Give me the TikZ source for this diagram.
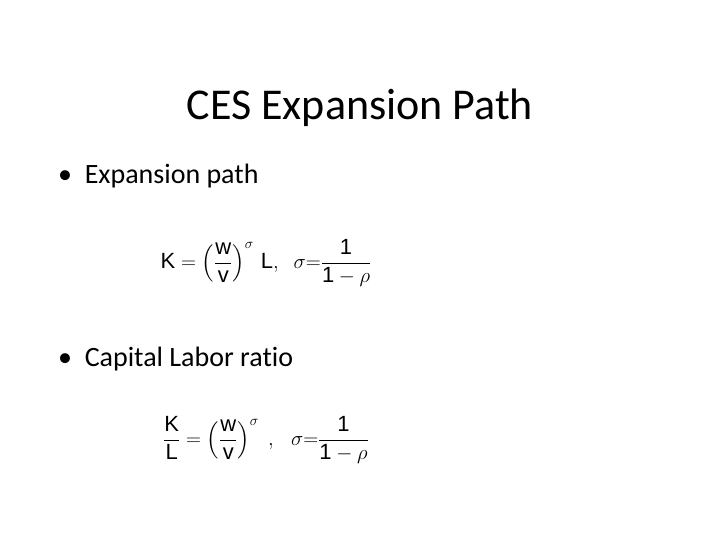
\documentclass[tikz,border=0pt]{standalone}
\usepackage{amsmath}
\usepackage{fontspec}
\setmainfont{Carlito}[Ligatures=NoCommon]
\setsansfont{Liberation Sans}
\begin{document}
\begin{tikzpicture}[x=1pt,y=-1pt,
  txt/.style={anchor=base west,inner sep=0pt},
  eq/.style={inner sep=0pt}]
\useasboundingbox[fill=white] (0,0) rectangle (720,540);
\node[anchor=base,inner sep=0pt,font=\fontsize{44}{50}\selectfont] (title) at (360,120) {CES Expansion Path};
\node[txt,font=\fontsize{28}{34}\selectfont] (b1) at (58,184) {\textbullet\ \ Expansion path};
\node[txt,font=\fontsize{28}{34}\selectfont] (b2) at (58,366) {\textbullet\ \ Capital Labor ratio};
\node[eq,font=\fontsize{22}{26}\selectfont] (f1) at (266,263) {$\mathsf{K}=\left(\dfrac{\mathsf{w}}{\mathsf{v}}\right)^{\sigma}\,\mathsf{L},\;\;\sigma\mathsf{=}\dfrac{\mathsf{1}}{\mathsf{1}-\rho}$};
\node[eq,font=\fontsize{22}{26}\selectfont] (f2) at (266,440) {$\dfrac{\mathsf{K}}{\mathsf{L}}=\left(\dfrac{\mathsf{w}}{\mathsf{v}}\right)^{\sigma}\;\mathsf{,}\;\;\;\sigma\mathsf{=}\dfrac{\mathsf{1}}{\mathsf{1}-\rho}$};
\end{tikzpicture}
\end{document}
